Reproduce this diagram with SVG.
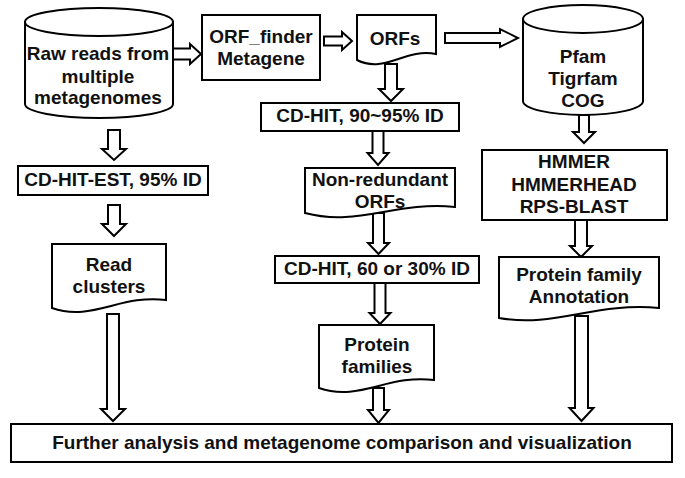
<svg xmlns="http://www.w3.org/2000/svg" width="685" height="478" viewBox="0 0 685 478">
<style>
.s{fill:#fff;stroke:#000;stroke-width:2}
.a{fill:#fff;stroke:#000;stroke-width:2;stroke-linejoin:miter}
text{font-family:"Liberation Sans",Arial,sans-serif;font-weight:bold;font-size:19px;text-anchor:middle;fill:#111}
</style>
<rect width="685" height="478" fill="#fff"/>
<g id="connectors">
<polygon class="a" points="173,48.5 190,48.5 190,44 201,54 190,64 190,59.5 173,59.5"/>
<polygon class="a" points="324,36.5 342,36.5 342,32 352,41 342,50 342,45.5 324,45.5"/>
<polygon class="a" points="445,33 500,33 500,29 518,38 500,47 500,43 445,43"/>
<polygon class="a" points="108,130 120,130 120,149 126,149 114,160 102,149 108,149"/>
<polygon class="a" points="108,205 120,205 120,224 126,224 114,236 102,224 108,224"/>
<polygon class="a" points="107,314 119,314 119,409 125,409 113,421 101,409 107,409"/>
<polygon class="a" points="385,64 397,64 397,89 403,89 391,101 379,89 385,89"/>
<polygon class="a" points="372.5,131 383.5,131 383.5,153 388.5,153 378,165 367.5,153 372.5,153"/>
<polygon class="a" points="373,213 384,213 384,243 389,243 378.5,254 368,243 373,243"/>
<polygon class="a" points="374.5,283 385.5,283 385.5,313 390.5,313 380,324 369.5,313 374.5,313"/>
<polygon class="a" points="373,388 384,388 384,410 389,410 378.5,423 368,410 373,410"/>
<polygon class="a" points="579,115 589,115 589,132 595,132 584,143 573,132 579,132"/>
<polygon class="a" points="575,220 587,220 587,246 592,246 581,257 570,246 575,246"/>
<polygon class="a" points="575,316 588,316 588,408 593.5,408 581.5,421 569.5,408 575,408"/>
</g>
<g id="raw-reads">
<path class="s" d="M25,22 V104 A74,14 0 0 0 173,104 V22 Z"/>
<ellipse class="s" cx="99" cy="22" rx="74" ry="14"/>
<text x="98" y="60">Raw reads from</text>
<text x="98" y="83">multiple</text>
<text x="98" y="104">metagenomes</text>
</g>
<g id="orf-finder">
<rect class="s" x="202" y="15" width="118" height="65"/>
<text x="261" y="43">ORF_finder</text>
<text x="261" y="65">Metagene</text>
</g>
<g id="orfs">
<path class="s" d="M357,15 H436 V54 C404.6,48 384.7,74 357,60 Z"/>
<text x="395" y="45">ORFs</text>
</g>
<g id="pfam">
<path class="s" d="M523,19 V101 A60,14 0 0 0 643,101 V19 Z"/>
<ellipse class="s" cx="583" cy="19" rx="60" ry="14"/>
<text x="583" y="63">Pfam</text>
<text x="583" y="85">Tigrfam</text>
<text x="583" y="107">COG</text>
</g>
<g id="cdhit-est">
<rect class="s" x="18" y="166" width="190" height="29"/>
<text x="113" y="186">CD-HIT-EST, 95% ID</text>
</g>
<g id="read-clusters">
<path class="s" d="M52,244 H166 V300 C120.4,294 91.9,322 52,308 Z"/>
<text x="109" y="271">Read</text>
<text x="109" y="293">clusters</text>
</g>
<g id="cdhit-90">
<rect class="s" x="261" y="103" width="198" height="28"/>
<text x="360" y="122">CD-HIT, 90~95% ID</text>
</g>
<g id="nonredundant">
<path class="s" d="M305,168 H455 V207 C395,201 357.5,227 305,213 Z"/>
<text x="380" y="186">Non-redundant</text>
<text x="380" y="208">ORFs</text>
</g>
<g id="cdhit-60">
<rect class="s" x="275" y="256" width="204" height="27"/>
<text x="377" y="275">CD-HIT, 60 or 30% ID</text>
</g>
<g id="protein-families">
<path class="s" d="M319,325 H434 V380 C388,374 359.3,402 319,388 Z"/>
<text x="377" y="351">Protein</text>
<text x="377" y="373">families</text>
</g>
<g id="hmmer">
<rect class="s" x="482" y="150" width="185" height="70"/>
<text x="574" y="168">HMMER</text>
<text x="574" y="191">HMMERHEAD</text>
<text x="574" y="213">RPS-BLAST</text>
</g>
<g id="annotation">
<path class="s" d="M499,257 H659 V308 C595,302 555,328 499,318 Z"/>
<text x="579" y="281">Protein family</text>
<text x="579" y="303">Annotation</text>
</g>
<g id="further">
<rect class="s" x="11" y="424" width="661" height="38"/>
<text x="342" y="449">Further analysis and metagenome comparison and visualization</text>
</g>
</svg>
